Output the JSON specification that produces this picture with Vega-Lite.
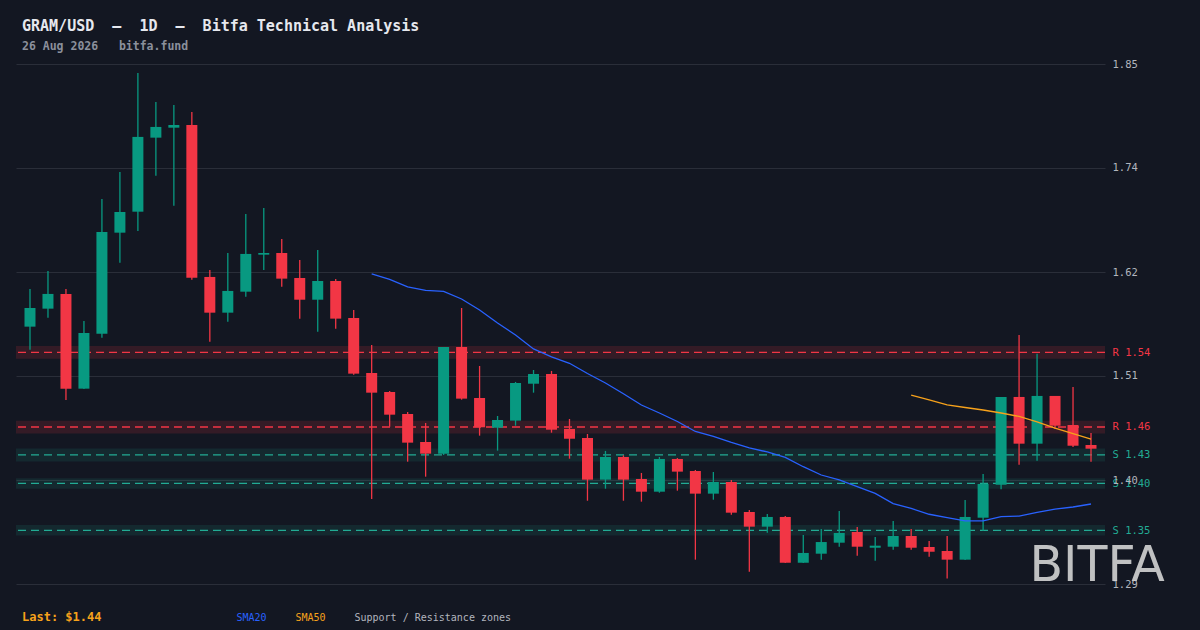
{
  "$schema": "https://vega.github.io/schema/vega-lite/v6.json",
  "description": "GRAM/USD daily candles with SMA20, SMA50 and support / resistance zones.",
  "background": "#131722",
  "autosize": "none",
  "padding": {"left": 16, "top": 64, "right": 95, "bottom": 46},
  "width": 1089,
  "height": 520,
  "title": {
    "text": "GRAM/USD\u00a0\u00a0—\u00a0\u00a01D\u00a0\u00a0—\u00a0\u00a0Bitfa Technical Analysis",
    "subtitle": "26 Aug 2026\u00a0\u00a0\u00a0bitfa.fund",
    "anchor": "start",
    "frame": "group",
    "dx": 6,
    "offset": 7,
    "font": "DejaVu Sans Mono",
    "fontSize": 15,
    "fontWeight": "bold",
    "color": "#e6e8ee",
    "subtitleFont": "DejaVu Sans Mono",
    "subtitleFontSize": 11.5,
    "subtitleFontWeight": "bold",
    "subtitleColor": "#8b909c",
    "subtitlePadding": 7
  },
  "config": {"view": {"stroke": null}, "font": "DejaVu Sans Mono"},
  "datasets": {
    "candles": [
      {"i": 0, "o": 1.5653, "h": 1.6057, "l": 1.5406, "c": 1.5853},
      {"i": 1, "o": 1.5846, "h": 1.6250, "l": 1.5749, "c": 1.6004},
      {"i": 2, "o": 1.6004, "h": 1.6057, "l": 1.4867, "c": 1.4988},
      {"i": 3, "o": 1.4988, "h": 1.5714, "l": 1.4985, "c": 1.5585},
      {"i": 4, "o": 1.5578, "h": 1.7023, "l": 1.5535, "c": 1.6669},
      {"i": 5, "o": 1.6661, "h": 1.7312, "l": 1.6339, "c": 1.6883},
      {"i": 6, "o": 1.6886, "h": 1.8374, "l": 1.6679, "c": 1.7688},
      {"i": 7, "o": 1.7680, "h": 1.8063, "l": 1.7272, "c": 1.7795},
      {"i": 8, "o": 1.7787, "h": 1.8031, "l": 1.6951, "c": 1.7816},
      {"i": 9, "o": 1.7816, "h": 1.7956, "l": 1.6157, "c": 1.6178},
      {"i": 10, "o": 1.6186, "h": 1.6261, "l": 1.5492, "c": 1.5803},
      {"i": 11, "o": 1.5803, "h": 1.6443, "l": 1.5706, "c": 1.6036},
      {"i": 12, "o": 1.6028, "h": 1.6862, "l": 1.5975, "c": 1.6433},
      {"i": 13, "o": 1.6425, "h": 1.6926, "l": 1.6261, "c": 1.6443},
      {"i": 14, "o": 1.6443, "h": 1.6593, "l": 1.6082, "c": 1.6168},
      {"i": 15, "o": 1.6175, "h": 1.6368, "l": 1.5739, "c": 1.5942},
      {"i": 16, "o": 1.5942, "h": 1.6475, "l": 1.5599, "c": 1.6143},
      {"i": 17, "o": 1.6143, "h": 1.6164, "l": 1.5631, "c": 1.5739},
      {"i": 18, "o": 1.5746, "h": 1.5832, "l": 1.5138, "c": 1.5149},
      {"i": 19, "o": 1.5156, "h": 1.5457, "l": 1.3805, "c": 1.4945},
      {"i": 20, "o": 1.4952, "h": 1.4963, "l": 1.4580, "c": 1.4709},
      {"i": 21, "o": 1.4716, "h": 1.4738, "l": 1.4205, "c": 1.4409},
      {"i": 22, "o": 1.4416, "h": 1.4620, "l": 1.4044, "c": 1.4291},
      {"i": 23, "o": 1.4291, "h": 1.5435, "l": 1.4277, "c": 1.5435},
      {"i": 24, "o": 1.5435, "h": 1.5853, "l": 1.4870, "c": 1.4881},
      {"i": 25, "o": 1.4888, "h": 1.5231, "l": 1.4484, "c": 1.4574},
      {"i": 26, "o": 1.4569, "h": 1.4695, "l": 1.4323, "c": 1.4652},
      {"i": 27, "o": 1.4645, "h": 1.5060, "l": 1.4591, "c": 1.5049},
      {"i": 28, "o": 1.5041, "h": 1.5188, "l": 1.4945, "c": 1.5145},
      {"i": 29, "o": 1.5145, "h": 1.5178, "l": 1.4516, "c": 1.4548},
      {"i": 30, "o": 1.4556, "h": 1.4663, "l": 1.4237, "c": 1.4451},
      {"i": 31, "o": 1.4459, "h": 1.4502, "l": 1.3786, "c": 1.4012},
      {"i": 32, "o": 1.4012, "h": 1.4320, "l": 1.3915, "c": 1.4255},
      {"i": 33, "o": 1.4255, "h": 1.4273, "l": 1.3786, "c": 1.4012},
      {"i": 34, "o": 1.4019, "h": 1.4084, "l": 1.3776, "c": 1.3883},
      {"i": 35, "o": 1.3883, "h": 1.4255, "l": 1.3872, "c": 1.4234},
      {"i": 36, "o": 1.4234, "h": 1.4244, "l": 1.3894, "c": 1.4098},
      {"i": 37, "o": 1.4105, "h": 1.4116, "l": 1.3154, "c": 1.3862},
      {"i": 38, "o": 1.3862, "h": 1.4094, "l": 1.3797, "c": 1.3987},
      {"i": 39, "o": 1.3987, "h": 1.4009, "l": 1.3636, "c": 1.3658},
      {"i": 40, "o": 1.3665, "h": 1.3687, "l": 1.3025, "c": 1.3508},
      {"i": 41, "o": 1.3508, "h": 1.3644, "l": 1.3443, "c": 1.3612},
      {"i": 42, "o": 1.3612, "h": 1.3622, "l": 1.3118, "c": 1.3121},
      {"i": 43, "o": 1.3121, "h": 1.3419, "l": 1.3118, "c": 1.3226},
      {"i": 44, "o": 1.3218, "h": 1.3483, "l": 1.3154, "c": 1.3343},
      {"i": 45, "o": 1.3336, "h": 1.3676, "l": 1.3293, "c": 1.3440},
      {"i": 46, "o": 1.3451, "h": 1.3504, "l": 1.3197, "c": 1.3293},
      {"i": 47, "o": 1.3282, "h": 1.3397, "l": 1.3143, "c": 1.3304},
      {"i": 48, "o": 1.3293, "h": 1.3569, "l": 1.3261, "c": 1.3408},
      {"i": 49, "o": 1.3408, "h": 1.3483, "l": 1.3261, "c": 1.3282},
      {"i": 50, "o": 1.3290, "h": 1.3354, "l": 1.3186, "c": 1.3239},
      {"i": 51, "o": 1.3247, "h": 1.3408, "l": 1.2952, "c": 1.3154},
      {"i": 52, "o": 1.3154, "h": 1.3794, "l": 1.3150, "c": 1.3612},
      {"i": 53, "o": 1.3604, "h": 1.4073, "l": 1.3465, "c": 1.3966},
      {"i": 54, "o": 1.3958, "h": 1.4899, "l": 1.3909, "c": 1.4899},
      {"i": 55, "o": 1.4899, "h": 1.5564, "l": 1.4173, "c": 1.4398},
      {"i": 56, "o": 1.4398, "h": 1.5363, "l": 1.4216, "c": 1.4910},
      {"i": 57, "o": 1.4910, "h": 1.4910, "l": 1.4556, "c": 1.4591},
      {"i": 58, "o": 1.4598, "h": 1.5006, "l": 1.4362, "c": 1.4376},
      {"i": 59, "o": 1.4384, "h": 1.4513, "l": 1.4205, "c": 1.4344}
    ],
    "sma": [
      {"i": 19, "v": 1.6218, "s": "SMA20"},
      {"i": 20, "v": 1.6159, "s": "SMA20"},
      {"i": 21, "v": 1.6079, "s": "SMA20"},
      {"i": 22, "v": 1.6043, "s": "SMA20"},
      {"i": 23, "v": 1.6032, "s": "SMA20"},
      {"i": 24, "v": 1.5950, "s": "SMA20"},
      {"i": 25, "v": 1.5832, "s": "SMA20"},
      {"i": 26, "v": 1.5692, "s": "SMA20"},
      {"i": 27, "v": 1.5564, "s": "SMA20"},
      {"i": 28, "v": 1.5414, "s": "SMA20"},
      {"i": 29, "v": 1.5328, "s": "SMA20"},
      {"i": 30, "v": 1.5260, "s": "SMA20"},
      {"i": 31, "v": 1.5151, "s": "SMA20"},
      {"i": 32, "v": 1.5049, "s": "SMA20"},
      {"i": 33, "v": 1.4934, "s": "SMA20"},
      {"i": 34, "v": 1.4813, "s": "SMA20"},
      {"i": 35, "v": 1.4727, "s": "SMA20"},
      {"i": 36, "v": 1.4636, "s": "SMA20"},
      {"i": 37, "v": 1.4529, "s": "SMA20"},
      {"i": 38, "v": 1.4475, "s": "SMA20"},
      {"i": 39, "v": 1.4411, "s": "SMA20"},
      {"i": 40, "v": 1.4352, "s": "SMA20"},
      {"i": 41, "v": 1.4309, "s": "SMA20"},
      {"i": 42, "v": 1.4250, "s": "SMA20"},
      {"i": 43, "v": 1.4151, "s": "SMA20"},
      {"i": 44, "v": 1.4062, "s": "SMA20"},
      {"i": 45, "v": 1.4009, "s": "SMA20"},
      {"i": 46, "v": 1.3937, "s": "SMA20"},
      {"i": 47, "v": 1.3864, "s": "SMA20"},
      {"i": 48, "v": 1.3756, "s": "SMA20"},
      {"i": 49, "v": 1.3703, "s": "SMA20"},
      {"i": 50, "v": 1.3641, "s": "SMA20"},
      {"i": 51, "v": 1.3606, "s": "SMA20"},
      {"i": 52, "v": 1.3569, "s": "SMA20"},
      {"i": 53, "v": 1.3569, "s": "SMA20"},
      {"i": 54, "v": 1.3615, "s": "SMA20"},
      {"i": 55, "v": 1.3622, "s": "SMA20"},
      {"i": 56, "v": 1.3662, "s": "SMA20"},
      {"i": 57, "v": 1.3697, "s": "SMA20"},
      {"i": 58, "v": 1.3719, "s": "SMA20"},
      {"i": 59, "v": 1.3751, "s": "SMA20"},
      {"i": 49, "v": 1.4920, "s": "SMA50"},
      {"i": 50, "v": 1.4867, "s": "SMA50"},
      {"i": 51, "v": 1.4813, "s": "SMA50"},
      {"i": 52, "v": 1.4786, "s": "SMA50"},
      {"i": 53, "v": 1.4759, "s": "SMA50"},
      {"i": 54, "v": 1.4727, "s": "SMA50"},
      {"i": 55, "v": 1.4690, "s": "SMA50"},
      {"i": 56, "v": 1.4631, "s": "SMA50"},
      {"i": 57, "v": 1.4566, "s": "SMA50"},
      {"i": 58, "v": 1.4507, "s": "SMA50"},
      {"i": 59, "v": 1.4448, "s": "SMA50"}
    ],
    "zones": [
      {"kind": "R", "level": 1.5378, "lo": 1.5310, "hi": 1.5446},
      {"kind": "R", "level": 1.4577, "lo": 1.4507, "hi": 1.4643},
      {"kind": "S", "level": 1.4277, "lo": 1.4207, "hi": 1.4347},
      {"kind": "S", "level": 1.3973, "lo": 1.3915, "hi": 1.4027},
      {"kind": "S", "level": 1.3469, "lo": 1.3413, "hi": 1.3525}
    ]
  },
  "layer": [
    {
      "data": {"name": "zones"},
      "mark": {"type": "rect"},
      "encoding": {
        "y": {
          "field": "lo",
          "type": "quantitative",
          "scale": {"domain": [1.2893, 1.847], "nice": false, "zero": false},
          "axis": {
            "orient": "right",
            "values": [1.2893, 1.4008, 1.5124, 1.6239, 1.7356, 1.847, 1.5378, 1.4577, 1.4277, 1.3973, 1.3469],
            "labelExpr": "datum.value == 1.5378 || datum.value == 1.4577 ? 'R ' + format(datum.value, '.2f') : (datum.value == 1.4277 || datum.value == 1.3973 || datum.value == 1.3469 ? 'S ' + format(datum.value, '.2f') : format(datum.value, '.2f'))",
            "labelColor": {
              "condition": [
                {"test": "datum.value == 1.5378 || datum.value == 1.4577", "value": "#f23645"},
                {"test": "datum.value == 1.4277 || datum.value == 1.3973 || datum.value == 1.3469", "value": "#22ab94"}
              ],
              "value": "#b2b5be"
            },
            "gridOpacity": {
              "condition": {"test": "datum.value == 1.5378 || datum.value == 1.4577 || datum.value == 1.4277 || datum.value == 1.3973 || datum.value == 1.3469", "value": 0},
              "value": 1
            },
            "grid": true,
            "gridColor": "#2a2e39",
            "gridWidth": 1,
            "ticks": false,
            "domain": false,
            "labelPadding": 7,
            "labelFont": "DejaVu Sans Mono",
            "labelFontSize": 10.5,
            "labelOverlap": false,
            "labelFlush": false,
            "labelBound": false,
            "title": "BITFA",
            "titleAngle": 0,
            "titleAlign": "left",
            "titleBaseline": "alphabetic",
            "titleX": -76,
            "titleY": 516,
            "titleFont": "DejaVu Sans",
            "titleFontSize": 49,
            "titleFontWeight": "normal",
            "titleColor": "#d4d4d4",
            "titleOpacity": 0.9
          }
        },
        "y2": {"field": "hi"},
        "color": {
          "condition": {"test": "datum.kind == 'R'", "value": "#f23645"},
          "value": "#22ab94"
        },
        "opacity": {
          "condition": {"test": "datum.kind == 'R'", "value": 0.15},
          "value": 0.12
        }
      }
    },
    {
      "data": {"name": "zones"},
      "mark": {"type": "rule", "strokeWidth": 1.3, "strokeDash": [8, 5]},
      "encoding": {
        "y": {"field": "level", "type": "quantitative", "scale": {"domain": [1.2893, 1.847], "nice": false, "zero": false}},
        "color": {
          "condition": {"test": "datum.kind == 'R'", "value": "#f23645"},
          "value": "#22ab94"
        }
      }
    },
    {
      "data": {"name": "candles"},
      "mark": {"type": "rule", "strokeWidth": 1.3},
      "encoding": {
        "x": {
          "field": "i",
          "type": "quantitative",
          "scale": {"domain": [-0.5, 59.5], "nice": false, "zero": false},
          "axis": {
            "labels": false,
            "ticks": false,
            "domain": false,
            "grid": false,
            "title": "Last: $1.44",
            "titleX": 5.5,
            "titleY": 36.5,
            "titleAlign": "left",
            "titleBaseline": "alphabetic",
            "titleFont": "DejaVu Sans Mono",
            "titleFontSize": 12,
            "titleFontWeight": "bold",
            "titleColor": "#f7a21b"
          }
        },
        "y": {"field": "l", "type": "quantitative", "scale": {"domain": [1.2893, 1.847], "nice": false, "zero": false}},
        "y2": {"field": "h"},
        "color": {
          "condition": {"test": "datum.c >= datum.o", "value": "#089981"},
          "value": "#f23645"
        }
      }
    },
    {
      "data": {"name": "candles"},
      "mark": {"type": "bar", "size": 11},
      "encoding": {
        "x": {"field": "i", "type": "quantitative", "scale": {"domain": [-0.5, 59.5], "nice": false, "zero": false}},
        "y": {"field": "o", "type": "quantitative", "scale": {"domain": [1.2893, 1.847], "nice": false, "zero": false}},
        "y2": {"field": "c"},
        "color": {
          "condition": {"test": "datum.c >= datum.o", "value": "#089981"},
          "value": "#f23645"
        }
      }
    },
    {
      "data": {"name": "sma"},
      "mark": {"type": "line", "strokeWidth": 1.3},
      "encoding": {
        "x": {"field": "i", "type": "quantitative", "scale": {"domain": [-0.5, 59.5], "nice": false, "zero": false}},
        "y": {"field": "v", "type": "quantitative", "scale": {"domain": [1.2893, 1.847], "nice": false, "zero": false}},
        "color": {
          "field": "s",
          "type": "nominal",
          "scale": {
            "domain": ["SMA20", "SMA50", "Support / Resistance zones"],
            "range": ["#2962ff", "#f7a21b", "#b2b5be"]
          },
          "legend": {
            "orient": "none",
            "legendX": 210.5,
            "legendY": 549,
            "direction": "horizontal",
            "title": null,
            "padding": 0,
            "symbolSize": 0,
            "symbolOpacity": 0,
            "symbolStrokeWidth": 0,
            "labelOffset": 0,
            "columnPadding": 18,
            "labelFont": "DejaVu Sans Mono",
            "labelFontSize": 10,
            "labelLimit": 300,
            "encode": {"labels": {"update": {"fill": {"scale": "color", "field": "value"}}}}
          }
        }
      }
    }
  ]
}
